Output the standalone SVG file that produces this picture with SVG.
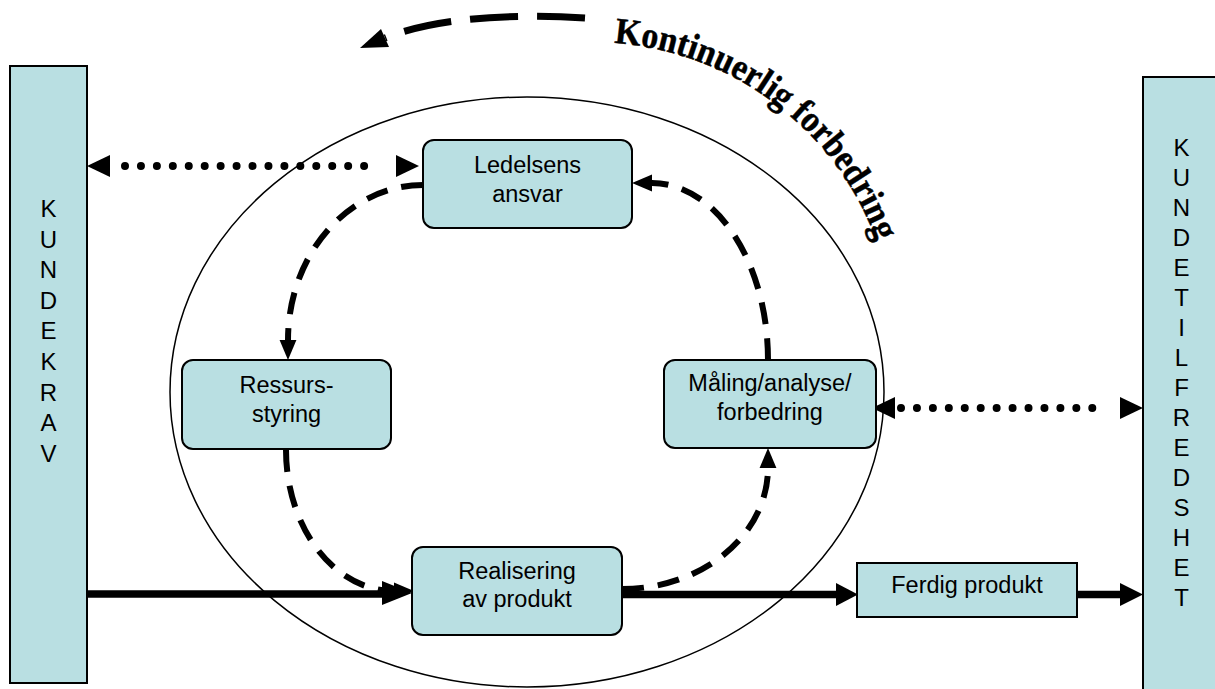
<svg xmlns="http://www.w3.org/2000/svg" width="1215" height="689" viewBox="0 0 1215 689">
<style>
.box{fill:#B9DFE2;stroke:#000;stroke-width:2}
.lbl{font-family:"Liberation Sans",Arial,sans-serif;font-size:23.5px;fill:#000;text-anchor:middle}
.vert{font-family:"Liberation Sans",Arial,sans-serif;font-size:24px;fill:#000;text-anchor:middle}
.dash{fill:none;stroke:#000;stroke-width:6;stroke-dasharray:22 14}
.dots{fill:none;stroke:#000;stroke-width:8;stroke-linecap:round;stroke-dasharray:0 15.94}
.thick{fill:none;stroke:#000;stroke-width:7.5}
.head{fill:#000}
.title{font-family:"Liberation Serif","Times New Roman",serif;font-weight:bold;font-size:37px;fill:#000;stroke:#000;stroke-width:0.5}
</style>
<defs>
<marker id="dh" markerUnits="userSpaceOnUse" markerWidth="20" markerHeight="20" refX="0" refY="8" orient="auto" viewBox="0 0 19 16">
<path d="M0,0 L19,8 L0,16 z" fill="#000"/>
</marker>
<path id="titleArc" d="M614,43 A303,303 0 0 1 895,345"/>
</defs>

<g id="cycle-ellipse">
<ellipse cx="527" cy="392" rx="357" ry="295" fill="none" stroke="#000" stroke-width="1.5"/>
</g>

<g id="kundekrav">
<rect x="10" y="66" width="77" height="617" class="box"/>
<text class="vert"><tspan x="48.5" y="217">K</tspan><tspan x="48.5" dy="30.6">U</tspan><tspan x="48.5" dy="30.6">N</tspan><tspan x="48.5" dy="30.6">D</tspan><tspan x="48.5" dy="30.6">E</tspan><tspan x="48.5" dy="30.6">K</tspan><tspan x="48.5" dy="30.6">R</tspan><tspan x="48.5" dy="30.6">A</tspan><tspan x="48.5" dy="30.6">V</tspan></text>
</g>

<g id="kundetilfredshet">
<rect x="1143" y="77" width="80" height="620" class="box"/>
<text class="vert"><tspan x="1181.5" y="156">K</tspan><tspan x="1181.5" dy="30">U</tspan><tspan x="1181.5" dy="30">N</tspan><tspan x="1181.5" dy="30">D</tspan><tspan x="1181.5" dy="30">E</tspan><tspan x="1181.5" dy="30">T</tspan><tspan x="1181.5" dy="30">I</tspan><tspan x="1181.5" dy="30">L</tspan><tspan x="1181.5" dy="30">F</tspan><tspan x="1181.5" dy="30">R</tspan><tspan x="1181.5" dy="30">E</tspan><tspan x="1181.5" dy="30">D</tspan><tspan x="1181.5" dy="30">S</tspan><tspan x="1181.5" dy="30">H</tspan><tspan x="1181.5" dy="30">E</tspan><tspan x="1181.5" dy="30">T</tspan></text>
</g>

<g id="connectors">
<line x1="125" y1="166" x2="380" y2="166" class="dots"/>
<polygon class="head" points="87,166 110,155 110,177"/>
<polygon class="head" points="419,166 396,155 396,177"/>
<line x1="901" y1="408" x2="1108" y2="408" class="dots"/>
<polygon class="head" points="872,408 895,397 895,419"/>
<polygon class="head" points="1143,408 1120,397 1120,419"/>
<path class="dash" d="M423,185 A135,155 0 0 0 288,340" marker-end="url(#dh)"/>
<path class="dash" d="M286,450 A108,141 0 0 0 394,591" marker-end="url(#dh)"/>
<path class="dash" d="M622,589 A146,121 0 0 0 768,468" marker-end="url(#dh)"/>
<path class="dash" d="M768,360 A116,177 0 0 0 652,183" marker-end="url(#dh)"/>
<line x1="87" y1="594" x2="384" y2="594" class="thick"/>
<polygon class="head" points="412,593 382,581 382,605"/>
<line x1="616" y1="594.5" x2="838" y2="594.5" class="thick"/>
<polygon class="head" points="858,594.5 836,583 836,606"/>
<line x1="1077" y1="594.5" x2="1122" y2="594.5" class="thick"/>
<polygon class="head" points="1143,594.5 1120,583 1120,606"/>
<path d="M585,18 C520,14 440,16 385,38" fill="none" stroke="#000" stroke-width="7" stroke-dasharray="48 19"/>
<polygon class="head" points="360,48 389,47 381,29"/>
</g>

<g id="title">
<text class="title"><textPath href="#titleArc" textLength="348" lengthAdjust="spacingAndGlyphs">Kontinuerlig forbedring</textPath></text>
</g>

<g id="ledelsens-ansvar">
<rect x="423" y="140" width="209" height="88" rx="11" class="box"/>
<text class="lbl" x="527.5" y="173">Ledelsens</text>
<text class="lbl" x="527.5" y="202">ansvar</text>
</g>

<g id="ressursstyring">
<rect x="182" y="360" width="209" height="89" rx="11" class="box"/>
<text class="lbl" x="286.5" y="393">Ressurs-</text>
<text class="lbl" x="286.5" y="422">styring</text>
</g>

<g id="maling">
<rect x="664" y="360" width="212" height="88" rx="11" class="box"/>
<text class="lbl" x="770" y="391">Måling/analyse/</text>
<text class="lbl" x="770" y="420">forbedring</text>
</g>

<g id="realisering">
<rect x="412" y="547" width="210" height="88" rx="11" class="box"/>
<text class="lbl" x="517" y="579">Realisering</text>
<text class="lbl" x="517" y="607">av produkt</text>
</g>

<g id="ferdig-produkt">
<rect x="857" y="563" width="220" height="54" class="box"/>
<text class="lbl" x="967" y="593">Ferdig produkt</text>
</g>
</svg>
